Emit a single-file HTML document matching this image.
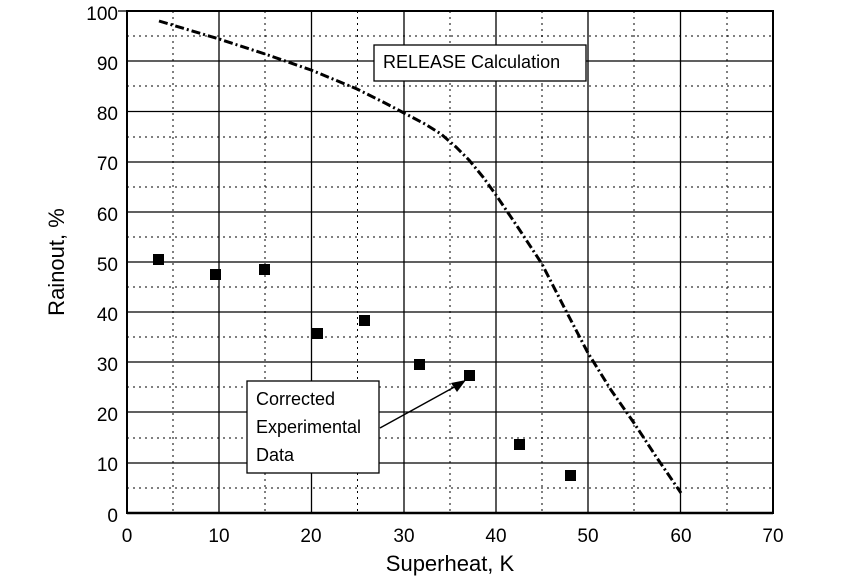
<!DOCTYPE html>
<html><head><style>body{margin:0;background:#fff}</style></head><body>
<svg width="842" height="582" xmlns="http://www.w3.org/2000/svg" font-family="Liberation Sans, Arial, sans-serif">
<g stroke="#000" stroke-width="1" stroke-dasharray="2,4">
<line x1="173" y1="11" x2="173" y2="513"/><line x1="265" y1="11" x2="265" y2="513"/><line x1="357.5" y1="11" x2="357.5" y2="513"/><line x1="450" y1="11" x2="450" y2="513"/><line x1="542" y1="11" x2="542" y2="513"/><line x1="634" y1="11" x2="634" y2="513"/><line x1="727" y1="11" x2="727" y2="513"/>
<line x1="127" y1="36" x2="773" y2="36"/><line x1="127" y1="86" x2="773" y2="86"/><line x1="127" y1="137" x2="773" y2="137"/><line x1="127" y1="187" x2="773" y2="187"/><line x1="127" y1="237" x2="773" y2="237"/><line x1="127" y1="287" x2="773" y2="287"/><line x1="127" y1="337" x2="773" y2="337"/><line x1="127" y1="387" x2="773" y2="387"/><line x1="127" y1="438" x2="773" y2="438"/><line x1="127" y1="488" x2="773" y2="488"/>
</g>
<g stroke="#000" stroke-width="1.3">
<line x1="219" y1="11" x2="219" y2="513"/><line x1="311.5" y1="11" x2="311.5" y2="513"/><line x1="404" y1="11" x2="404" y2="513"/><line x1="496" y1="11" x2="496" y2="513"/><line x1="588" y1="11" x2="588" y2="513"/><line x1="680.5" y1="11" x2="680.5" y2="513"/>
<line x1="127" y1="61" x2="773" y2="61"/><line x1="127" y1="111.5" x2="773" y2="111.5"/><line x1="127" y1="162" x2="773" y2="162"/><line x1="127" y1="212" x2="773" y2="212"/><line x1="127" y1="262" x2="773" y2="262"/><line x1="127" y1="312" x2="773" y2="312"/><line x1="127" y1="362" x2="773" y2="362"/><line x1="127" y1="412" x2="773" y2="412"/><line x1="127" y1="463" x2="773" y2="463"/>
<line x1="118" y1="11" x2="127" y2="11"/>
</g>
<rect x="127" y="11" width="646" height="502" fill="none" stroke="#000" stroke-width="2"/>
<line x1="127" y1="513" x2="773" y2="513" stroke="#000" stroke-width="2.5"/>
<polyline fill="none" stroke="#000" stroke-width="3" stroke-dasharray="9,3,2,3" points="159,21 219,39 265,54 311,70 357,89 385,103 404,113 425,124 441,134 456,147 469,160 483,177 496,195 519,229 542,264 565,309 588,353 611,390 634,423 657,458 681,493"/>
<g fill="#000">
<rect x="153" y="254" width="11" height="11"/><rect x="210" y="269" width="11" height="11"/><rect x="259" y="264" width="11" height="11"/><rect x="312" y="328" width="11" height="11"/><rect x="359" y="315" width="11" height="11"/><rect x="414" y="359" width="11" height="11"/><rect x="464" y="370" width="11" height="11"/><rect x="514" y="439" width="11" height="11"/><rect x="565" y="470" width="11" height="11"/>
</g>
<rect x="374" y="45" width="212" height="36" fill="#fff" stroke="#000" stroke-width="1.3"/>
<text x="383" y="68" font-size="18">RELEASE Calculation</text>
<rect x="247" y="381" width="132" height="92" fill="#fff" stroke="#000" stroke-width="1.3"/>
<text x="256" y="405" font-size="18">Corrected</text>
<text x="256" y="433" font-size="18">Experimental</text>
<text x="256" y="461" font-size="18">Data</text>
<line x1="380" y1="428" x2="458" y2="385" stroke="#000" stroke-width="1.5"/>
<polygon points="466,380 451,383 457,392" fill="#000"/>
<g font-size="19" text-anchor="end">
<text x="118" y="20">100</text><text x="118" y="70">90</text><text x="118" y="120">80</text><text x="118" y="170">70</text><text x="118" y="221">60</text><text x="118" y="271">50</text><text x="118" y="321">40</text><text x="118" y="371">30</text><text x="118" y="421">20</text><text x="118" y="471">10</text><text x="118" y="522">0</text>
</g>
<g font-size="19" text-anchor="middle">
<text x="127" y="542">0</text><text x="219" y="542">10</text><text x="311" y="542">20</text><text x="404" y="542">30</text><text x="496" y="542">40</text><text x="588" y="542">50</text><text x="681" y="542">60</text><text x="773" y="542">70</text>
</g>
<text x="450" y="571" font-size="22" text-anchor="middle">Superheat, K</text>
<text x="0" y="0" font-size="22" text-anchor="middle" transform="translate(64,262) rotate(-90)">Rainout, %</text>
</svg>
</body></html>
